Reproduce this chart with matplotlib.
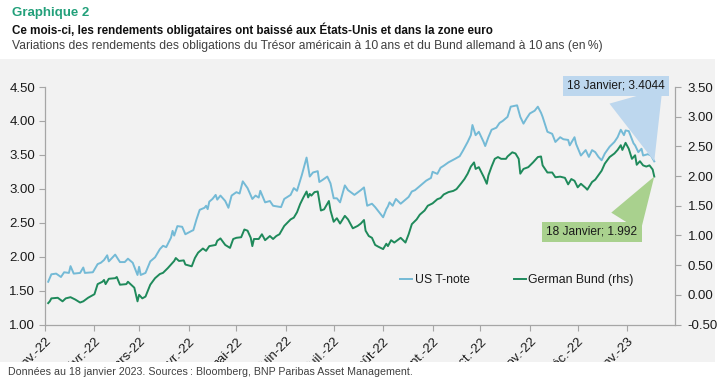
import numpy as np
import pandas as pd
import matplotlib
matplotlib.use("Agg")
import matplotlib.pyplot as plt
from matplotlib.patches import Rectangle
from matplotlib.transforms import Bbox, TransformedBbox

# ---------------- data ----------------
start_date = "2022-01-01"
# days since 1 Jan 2022
us_day = [2, 4, 7, 10, 12, 15, 16, 18, 22, 24,
          25, 30, 33, 35, 37, 39, 40, 44, 47, 50,
          52, 55, 58, 59, 60, 63, 66, 69, 72, 74,
          76, 79, 80, 81, 83, 86, 88, 92, 93, 95,
          97, 100, 101, 102, 103, 105, 107, 108, 110, 113,
          115, 117, 120, 122, 124, 127, 130, 132, 134, 135,
          138, 141, 143, 148, 150, 154, 156, 158, 161, 164,
          166, 168, 171, 172, 174, 177, 179, 181, 183, 185,
          188, 190, 194, 198, 200, 202, 205, 207, 210, 212,
          214, 215, 216, 218, 220, 223, 225, 228, 230, 232,
          236, 239, 242, 243, 246, 248, 250, 253, 257, 260,
          262, 265, 267, 268, 270, 272, 275, 276, 278, 280,
          283, 285, 287, 290, 292, 296, 298, 300, 302, 304,
          307, 309, 311, 312, 315, 318, 320, 323, 325, 328,
          329, 332, 333, 336, 339, 341, 343, 345, 347, 349,
          351, 354, 357, 359, 361, 363, 364, 366, 369, 370,
          372, 374, 375, 378, 380, 382]
us_val = [1.63, 1.74, 1.75, 1.70, 1.77, 1.76, 1.86, 1.75, 1.76, 1.84,
          1.76, 1.77, 1.89, 1.91, 1.95, 2.02, 1.93, 2.03, 1.92, 1.92,
          1.97, 1.91, 1.73, 1.85, 1.73, 1.76, 1.93, 1.99, 2.11, 2.16,
          2.14, 2.28, 2.38, 2.31, 2.45, 2.44, 2.33, 2.38, 2.39, 2.55,
          2.69, 2.72, 2.75, 2.70, 2.81, 2.85, 2.91, 2.84, 2.90, 2.82,
          2.72, 2.90, 2.95, 2.93, 3.11, 3.01, 2.85, 2.90, 2.87, 2.97,
          2.80, 2.82, 2.75, 2.73, 2.85, 2.91, 3.01, 2.97, 3.20, 3.46,
          3.18, 3.24, 3.26, 3.10, 3.13, 3.18, 3.08, 2.86, 2.86, 2.80,
          3.05, 2.98, 2.91, 2.98, 3.02, 2.75, 2.78, 2.73, 2.64, 2.58,
          2.70, 2.74, 2.80, 2.75, 2.85, 2.78, 2.82, 2.88, 2.96, 2.98,
          3.06, 3.12, 3.16, 3.25, 3.22, 3.31, 3.34, 3.39, 3.44, 3.48,
          3.56, 3.69, 3.79, 3.94, 3.79, 3.84, 3.69, 3.63, 3.76, 3.87,
          3.90, 3.97, 4.00, 4.06, 4.21, 4.23, 4.06, 3.96, 4.04, 4.11,
          4.15, 4.21, 4.12, 4.06, 3.84, 3.81, 3.69, 3.76, 3.73, 3.72,
          3.64, 3.76, 3.66, 3.49, 3.57, 3.47, 3.57, 3.54, 3.47, 3.42,
          3.52, 3.62, 3.69, 3.76, 3.87, 3.79, 3.86, 3.85, 3.67, 3.64,
          3.54, 3.59, 3.49, 3.51, 3.49, 3.4044]

de_day = [2, 3, 4, 8, 11, 13, 16, 19, 22, 24,
          27, 31, 33, 36, 37, 38, 40, 44, 45, 47,
          51, 52, 54, 56, 58, 59, 61, 63, 66, 69,
          72, 74, 77, 80, 81, 82, 84, 87, 88, 92,
          94, 96, 99, 101, 103, 107, 108, 110, 113, 116,
          118, 120, 123, 125, 127, 129, 130, 131, 134, 136,
          138, 141, 143, 145, 147, 150, 154, 156, 158, 160,
          162, 164, 165, 166, 167, 169, 171, 173, 175, 178,
          179, 181, 183, 185, 188, 190, 193, 196, 198, 200,
          201, 203, 205, 207, 209, 212, 214, 215, 217, 219,
          221, 223, 226, 228, 230, 233, 235, 238, 240, 243,
          246, 248, 250, 253, 256, 258, 261, 263, 265, 267,
          269, 270, 272, 275, 277, 278, 280, 282, 284, 286,
          289, 290, 293, 295, 297, 298, 300, 302, 303, 306,
          309, 311, 312, 315, 318, 320, 323, 326, 328, 330,
          332, 334, 336, 339, 340, 343, 345, 349, 351, 354,
          357, 359, 361, 362, 364, 366, 368, 370, 371, 373,
          375, 377, 379, 381, 382]
de_val = [-0.14, -0.11, -0.06, -0.05, -0.11, -0.06, -0.04, -0.08, -0.13, -0.11,
          -0.05, 0.01, 0.18, 0.22, 0.25, 0.18, 0.27, 0.28, 0.30, 0.17,
          0.18, 0.22, 0.17, 0.12, -0.11, 0.00, -0.06, -0.03, 0.17, 0.28,
          0.35, 0.37, 0.45, 0.54, 0.57, 0.62, 0.57, 0.58, 0.51, 0.48,
          0.62, 0.71, 0.78, 0.74, 0.82, 0.84, 0.91, 0.95, 0.84, 0.79,
          0.94, 0.96, 0.97, 1.10, 1.08, 0.96, 0.82, 0.94, 0.94, 1.02,
          0.92, 0.99, 0.94, 0.99, 1.02, 1.16, 1.27, 1.30, 1.39, 1.53,
          1.64, 1.74, 1.64, 1.70, 1.67, 1.73, 1.74, 1.42, 1.44, 1.58,
          1.42, 1.23, 1.29, 1.20, 1.33, 1.27, 1.12, 1.16, 1.20, 1.26,
          1.08, 0.99, 0.96, 0.84, 0.81, 0.77, 0.86, 0.82, 0.92, 0.88,
          0.92, 0.96, 0.88, 1.02, 1.19, 1.27, 1.35, 1.42, 1.50, 1.54,
          1.61, 1.63, 1.69, 1.73, 1.75, 1.78, 1.88, 1.95, 2.04, 2.16,
          2.23, 2.12, 2.15, 1.99, 1.87, 2.01, 2.16, 2.29, 2.32, 2.29,
          2.29, 2.33, 2.40, 2.38, 2.29, 2.04, 2.12, 2.14, 2.15, 2.23,
          2.32, 2.33, 2.18, 2.06, 2.06, 1.98, 1.99, 1.97, 1.86, 1.95,
          1.92, 1.81, 1.87, 1.80, 1.77, 1.90, 1.94, 2.09, 2.21, 2.32,
          2.38, 2.44, 2.52, 2.44, 2.56, 2.46, 2.29, 2.35, 2.19, 2.25,
          2.18, 2.16, 2.18, 2.11, 1.992]

x_tick_labels = ["janv.-22", "févr.-22", "mars-22", "avr.-22", "mai-22", "juin-22",
                 "juil.-22", "août-22", "sept.-22", "oct.-22", "nov.-22", "déc.-22",
                 "janv.-23"]
left_ticks = [1.00, 1.50, 2.00, 2.50, 3.00, 3.50, 4.00, 4.50]
right_ticks = [-0.50, 0.00, 0.50, 1.00, 1.50, 2.00, 2.50, 3.00, 3.50]
series_names = ["US T-note", "German Bund (rhs)"]
annot_date = "18 Janvier"

title_tag = "Graphique 2"
title = "Ce mois-ci, les rendements obligataires ont baissé aux États-Unis et dans la zone euro"
subtitle = "Variations des rendements des obligations du Trésor américain à 10\u2009ans et du Bund allemand à 10\u2009ans (en\u2009%)"
footnote = "Données au 18 janvier 2023. Sources\u2009: Bloomberg, BNP Paribas Asset Management."

# ---------------- style ----------------
plt.rcParams["font.family"] = ["Liberation Sans", "DejaVu Sans"]
BLUE = "#74bad6"
GREEN = "#1f8a5b"
TAG_GREEN = "#22a07a"
AXIS_GRAY = "#a6a6a6"
BG = "#f2f2f2"
TXT = "#1a1a1a"

W, H = 725, 385
def fx(px):
    return px / W
def fy(py):
    return 1 - py / H

fig = plt.figure(figsize=(W / 100, H / 100), dpi=100)
fig.patch.set_facecolor("white")

bg = Rectangle((0, fy(362)), fx(715), fy(59) - fy(362), transform=fig.transFigure,
               facecolor=BG, edgecolor="none", zorder=-5)
fig.add_artist(bg)

ax = fig.add_axes([fx(45), fy(324.5), fx(675) - fx(45), fy(87) - fy(324.5)])
ax.set_facecolor("none")
ax2 = ax.twinx()

base = pd.Timestamp(start_date)
us_dates = base + pd.to_timedelta(us_day, unit="D")
de_dates = base + pd.to_timedelta(de_day, unit="D")

l1, = ax.plot(us_dates, us_val, color=BLUE, lw=1.4, label=series_names[0])
l2, = ax2.plot(de_dates, de_val, color=GREEN, lw=1.4, label=series_names[1])

ax.set_xlim(pd.Timestamp("2022-01-01"), pd.Timestamp("2023-01-31"))
ax.set_ylim(left_ticks[0], left_ticks[-1])
ax2.set_ylim(right_ticks[0], right_ticks[-1])

month_starts = pd.date_range("2022-01-01", periods=len(x_tick_labels), freq="MS")
ax.set_xticks(month_starts)
ax.set_xticklabels(x_tick_labels, rotation=45, ha="right", va="top",
                   rotation_mode="anchor", fontsize=9.5, color=TXT)
ax.set_yticks(left_ticks)
ax.set_yticklabels([f"{v:.2f}" for v in left_ticks], fontsize=9.5, color=TXT)
ax2.set_yticks(right_ticks)
ax2.set_yticklabels([f"{v:.2f}" for v in right_ticks], fontsize=9.5, color=TXT)

for s in ["top", "right"]:
    ax.spines[s].set_visible(False)
for s in ["top", "left", "bottom"]:
    ax2.spines[s].set_visible(False)
for a, names in [(ax, ["left", "bottom"]), (ax2, ["right"])]:
    for s in names:
        a.spines[s].set_color(AXIS_GRAY)
        a.spines[s].set_linewidth(0.9)

ax.tick_params(axis="both", direction="out", length=4, color=AXIS_GRAY, width=0.8)
ax.tick_params(axis="y", pad=3)
ax.tick_params(axis="x", pad=4)
ax2.tick_params(axis="y", direction="out", length=4, color=AXIS_GRAY, width=0.8, pad=5)

clipbox = TransformedBbox(Bbox.from_extents(0, fy(362), fx(715), fy(59)), fig.transFigure)
for lbl in ax.get_xticklabels():
    lbl.set_clip_box(clipbox)
    lbl.set_clip_on(True)

# legend
fig.legend([l1, l2], series_names, loc="center", bbox_to_anchor=(fx(517), fy(280)),
           ncol=2, frameon=False, handlelength=1.0, handletextpad=0.2,
           columnspacing=3.6, fontsize=8.8, labelcolor=TXT)

# callouts
ax.annotate(f"{annot_date}; {us_val[-1]}", xy=(us_dates[-1], us_val[-1]),
            xytext=(fx(616), fy(86)), textcoords="figure fraction",
            ha="center", va="center", fontsize=8.6, color=TXT,
            bbox=dict(boxstyle="square,pad=0.35", fc="#bdd7ee", ec="none"),
            arrowprops=dict(arrowstyle="wedge,tail_width=4.6", fc="#bdd7ee", ec="none",
                            relpos=(0.69, 0.05), shrinkA=0, shrinkB=0),
            zorder=5, annotation_clip=False)
ax2.annotate(f"{annot_date}; {de_val[-1]}", xy=(de_dates[-1], de_val[-1]),
             xytext=(fx(592), fy(232)), textcoords="figure fraction",
             ha="center", va="center", fontsize=8.6, color=TXT,
             bbox=dict(boxstyle="square,pad=0.35", fc="#a9d18e", ec="none"),
             arrowprops=dict(arrowstyle="wedge,tail_width=2.9", fc="#a9d18e", ec="none",
                             relpos=(0.84, 0.95), shrinkA=0, shrinkB=0),
             zorder=5, annotation_clip=False)

# titles
fig.text(fx(12), fy(13), title_tag, color=TAG_GREEN, fontsize=9.5, fontweight="bold", va="center")
fig.text(fx(12), fy(30), title, color="#111111", fontsize=8.4, fontweight="bold", va="center")
fig.text(fx(12), fy(46), subtitle, color="#404040", fontsize=8.7, va="center")
fig.text(fx(8), fy(372), footnote, color="#404040", fontsize=7.7, va="center")

fig.savefig("out.png", dpi=100)
